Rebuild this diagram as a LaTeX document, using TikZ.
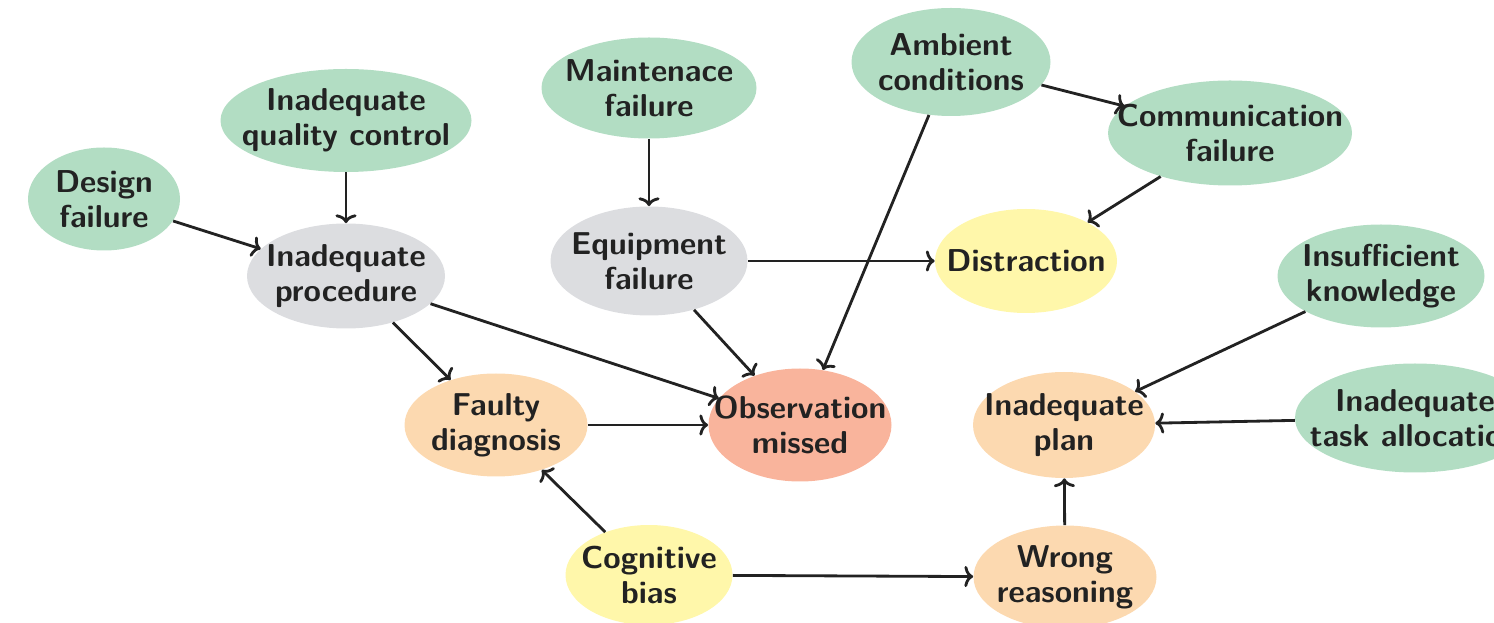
\documentclass[tikz,border=0pt]{standalone}
\usepackage{tikz}
\usetikzlibrary{shapes.geometric,arrows.meta}

\definecolor{causegreen}{RGB}{178,221,195}
\definecolor{causegrey}{RGB}{220,221,224}
\definecolor{causepeach}{RGB}{252,217,176}
\definecolor{causesalmon}{RGB}{249,180,156}
\definecolor{causeyellow}{RGB}{255,247,170}
\definecolor{causetext}{RGB}{34,34,34}

\tikzset{
	cause/.style={ellipse, draw=none, inner sep=-1cm, align=center, text=causetext,
		font=\fontsize{18}{20}\selectfont\sffamily\bfseries},
	link/.style={-{To[width=12pt, length=5pt]}, line width=1.6pt, color=causetext}
}

\begin{document}
\begin{tikzpicture}
			%%%%% START %%%%%
			\useasboundingbox (0, 0) rectangle (29.88, 12.44);
			
			\node[cause, fill=causegreen, minimum width=3.04cm, minimum height=2.06cm] (design) at (2.08, 8.46) {Design\\failure};
			\node[cause, fill=causegreen, minimum width=5.02cm, minimum height=2.06cm] (quality) at (6.92, 10.03) {Inadequate\\quality control};
			\node[cause, fill=causegrey, minimum width=3.96cm, minimum height=2.10cm] (procedure) at (6.92, 6.92) {Inadequate\\procedure};
			
			\node[cause, fill=causegreen, minimum width=4.30cm, minimum height=2.02cm] (maint) at (12.98, 10.68) {Maintenace\\failure};
			\node[cause, fill=causegrey, minimum width=3.94cm, minimum height=2.18cm] (equip) at (12.98, 7.22) {Equipment\\failure};
			
			\node[cause, fill=causegreen, minimum width=3.98cm, minimum height=2.16cm] (ambient) at (19.02, 11.20) {Ambient\\conditions};
			\node[cause, fill=causegreen, minimum width=4.88cm, minimum height=2.10cm] (comm) at (24.60, 9.78) {Communication\\failure};
			\node[cause, fill=causeyellow, minimum width=3.64cm, minimum height=2.08cm] (distract) at (20.52, 7.22) {Distraction};
			\node[cause, fill=causegreen, minimum width=4.14cm, minimum height=2.06cm] (knowledge) at (27.62, 6.92) {Insufficient\\knowledge};
			
			\node[cause, fill=causepeach, minimum width=3.66cm, minimum height=2.06cm] (faulty) at (9.92, 3.94) {Faulty\\diagnosis};
			\node[cause, fill=causesalmon, minimum width=3.66cm, minimum height=2.26cm] (missed) at (16.00, 3.94) {Observation\\missed};
			\node[cause, fill=causepeach, minimum width=3.64cm, minimum height=2.12cm] (plan) at (21.28, 3.94) {Inadequate\\plan};
			\node[cause, fill=causegreen, minimum width=4.80cm, minimum height=2.18cm] (task) at (28.30, 4.08) {Inadequate\\task allocation};
			
			\node[cause, fill=causeyellow, minimum width=3.34cm, minimum height=2.00cm] (bias) at (12.98, 0.94) {Cognitive\\bias};
			\node[cause, fill=causepeach, minimum width=3.66cm, minimum height=2.06cm] (wrong) at (21.30, 0.90) {Wrong\\reasoning};
			
			\draw[link] (design) -- (procedure);
			\draw[link] (quality) -- (procedure);
			\draw[link] (procedure) -- (faulty);
			\draw[link] (procedure) -- (missed);
			\draw[link] (maint) -- (equip);
			\draw[link] (equip) -- (missed);
			\draw[link] (equip) -- (distract);
			\draw[link] (ambient) -- (missed);
			\draw[link] (ambient) -- (comm);
			\draw[link] (comm) -- (distract);
			\draw[link] (knowledge) -- (plan);
			\draw[link] (task) -- (plan);
			\draw[link] (faulty) -- (missed);
			\draw[link] (bias) -- (faulty);
			\draw[link] (bias) -- (wrong);
			\draw[link] (wrong) -- (plan);
			
			%%%%% END %%%%%
		\end{tikzpicture}
\end{document}
